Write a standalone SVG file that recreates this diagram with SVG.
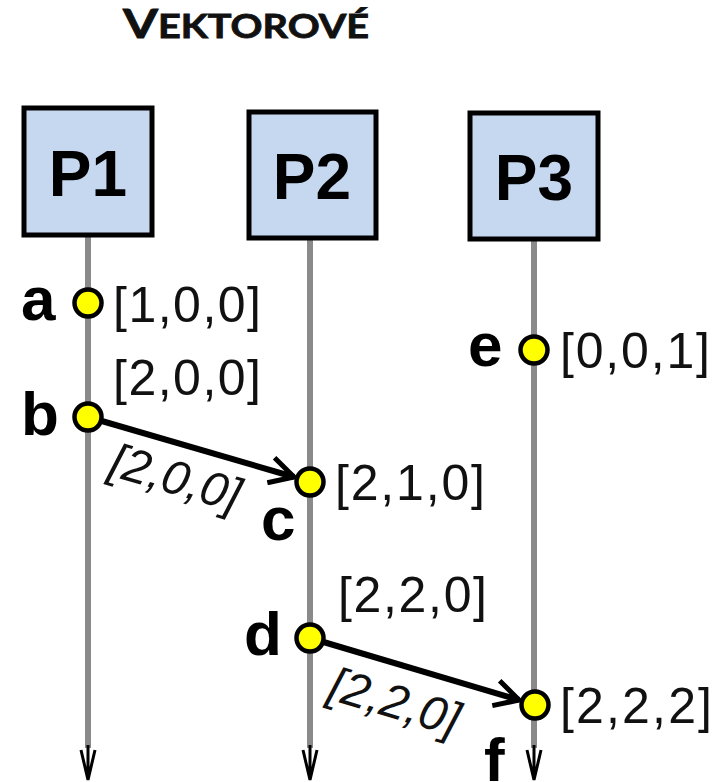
<svg xmlns="http://www.w3.org/2000/svg" width="725" height="782" viewBox="0 0 725 782">
<defs>
<style>
.box{fill:#c6d8ef;stroke:#000;stroke-width:5}
.pl{font-family:"Liberation Sans",Arial,sans-serif;font-weight:bold;font-size:64px;fill:#000}
.life{stroke:#8a8a8a;stroke-width:6;fill:none}
.tip{stroke:#000;stroke-width:3;fill:none}
.dot{fill:#ffff00;stroke:#000;stroke-width:4.5}
.lbl{font-family:"Liberation Sans",Arial,sans-serif;font-weight:bold;font-size:62px;fill:#000}
.vc{font-family:"Liberation Sans",Arial,sans-serif;font-size:50px;fill:#111}
.vi{font-family:"Liberation Sans",Arial,sans-serif;font-size:48px;font-style:italic;fill:#111}
.msg{stroke:#000;stroke-width:6;fill:none}
</style>
<marker id="open" viewBox="0 0 30 30" refX="28" refY="15" markerWidth="30" markerHeight="30" markerUnits="userSpaceOnUse" orient="auto">
<path d="M4 2 L28 15 L4 28" stroke="#000" stroke-width="5" fill="none"/>
</marker>
</defs>
<rect width="725" height="782" fill="#fff"/>
<text x="123" y="38" font-family="Lato,'Liberation Sans',sans-serif" font-weight="bold" fill="#111" stroke="#111" stroke-width="0.8" textLength="246" lengthAdjust="spacingAndGlyphs"><tspan font-size="40">V</tspan><tspan font-size="31.5">EKTOROVÉ</tspan></text>

<g id="lifelines">
<line class="life" x1="88" y1="236" x2="88" y2="748"/>
<line class="life" x1="310" y1="239" x2="310" y2="748"/>
<line class="life" x1="534" y1="240" x2="534" y2="748"/>
<path class="tip" d="M88 745 V780 M81 750 L88 780 L95 750"/>
<path class="tip" d="M310 745 V780 M303 750 L310 780 L317 750"/>
<path class="tip" d="M534 745 V780 M527 750 L534 780 L541 750"/>
</g>

<g id="P1"><rect class="box" x="24" y="108" width="128" height="127"/><text class="pl" x="88" y="196" text-anchor="middle">P1</text></g>
<g id="P2"><rect class="box" x="249" y="112" width="127" height="126"/><text class="pl" x="312" y="199" text-anchor="middle">P2</text></g>
<g id="P3"><rect class="box" x="470" y="113" width="128" height="126"/><text class="pl" x="534" y="200" text-anchor="middle">P3</text></g>

<g id="connectors">
<path class="msg" d="M88 417 L294 477" marker-end="url(#open)"/>
<path class="msg" d="M310 638 L519 700" marker-end="url(#open)"/>
<text class="vi" transform="translate(175,480) rotate(16.3)" x="0" y="14" text-anchor="middle">[2,0,0]</text>
<text class="vi" transform="translate(394,704) rotate(16.6)" x="0" y="14" text-anchor="middle">[2,2,0]</text>
</g>

<g id="a"><circle class="dot" cx="88" cy="303" r="13.5"/><text class="lbl" x="21" y="320">a</text><text class="vc" x="113" y="322" textLength="148">[1,0,0]</text></g>
<g id="b"><circle class="dot" cx="88" cy="417" r="13.5"/><text class="lbl" x="21" y="435">b</text><text class="vc" x="113" y="395" textLength="148">[2,0,0]</text></g>
<g id="c"><circle class="dot" cx="310" cy="482" r="13.5"/><text class="lbl" x="261" y="540">c</text><text class="vc" x="335" y="500" textLength="150">[2,1,0]</text></g>
<g id="d"><circle class="dot" cx="310" cy="638" r="13.5"/><text class="lbl" x="244" y="655">d</text><text class="vc" x="338" y="612" textLength="149">[2,2,0]</text></g>
<g id="e"><circle class="dot" cx="534" cy="350" r="13.5"/><text class="lbl" x="468" y="366">e</text><text class="vc" x="560" y="368" textLength="150">[0,0,1]</text></g>
<g id="f"><circle class="dot" cx="535" cy="705" r="13.5"/><text class="lbl" x="484" y="781">f</text><text class="vc" x="560" y="723" textLength="152">[2,2,2]</text></g>
</svg>
